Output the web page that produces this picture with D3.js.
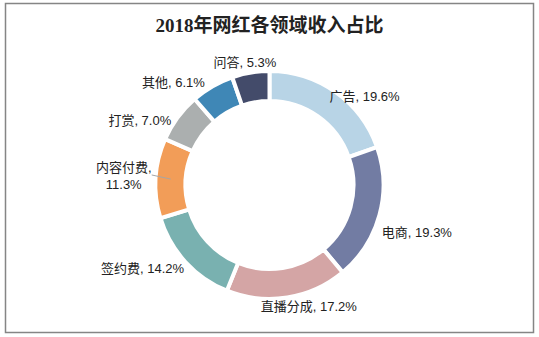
<!DOCTYPE html>
<html>
<head>
<meta charset="utf-8">
<script src="https://cdn.jsdelivr.net/npm/d3@7"></script>
<style>
  body { margin: 0; background: #fff; }
  svg { display: block; }
</style>
</head>
<body>
<div id="chart"></div>
<script>
const categories = ["广告", "电商", "直播分成", "签约费", "内容付费", "打赏", "其他", "问答"];
const shares = [19.6, 19.3, 17.2, 14.2, 11.3, 7.0, 6.1, 5.3];
const colors = ["#b8d4e6", "#727ca3", "#d4a5a5", "#79b1b0", "#f29d58", "#abafaf", "#3f87b6", "#434b6a"];
const title = "2018年网红各领域收入占比";

// nudges for the outside labels (excel "best fit" placement)
const labelNudge = [[20, 18], [22, 13], [19, -7], [-31, -4], [-16, -1], [-25, 13], [-31, 10], [-3, 6]];

const w = 539, h = 337;
const cx = 269.5, cy = 185;

const svg = d3.select("#chart")
  .append("svg")
  .attr("width", w)
  .attr("height", h);

svg.append("rect")
  .attr("x", 5.5).attr("y", 3.5)
  .attr("width", 528).attr("height", 329)
  .attr("fill", "#fff")
  .attr("stroke", "#858585")
  .attr("stroke-width", 1.5);

svg.append("text")
  .attr("x", cx)
  .attr("y", 32)
  .attr("text-anchor", "middle")
  .attr("font-family", "'Liberation Serif', 'Noto Sans CJK SC', serif")
  .attr("font-weight", "bold")
  .attr("font-size", 19)
  .attr("fill", "#222")
  .text(title);

const data = categories.map((c, i) => ({ name: c, value: shares[i], color: colors[i], nudge: labelNudge[i] }));

const pie = d3.pie().value(d => d.value).sort(null);
const arcs = pie(data);

const arc = d3.arc().innerRadius(84).outerRadius(114);
const labelArc = d3.arc().innerRadius(130).outerRadius(130);
const midArc = d3.arc().innerRadius(99).outerRadius(99);
const edgeArc = d3.arc().innerRadius(118).outerRadius(118);

const g = svg.append("g").attr("transform", "translate(" + cx + "," + cy + ")");

g.selectAll("path")
  .data(arcs)
  .enter()
  .append("path")
  .attr("d", arc)
  .attr("fill", d => d.data.color)
  .attr("stroke", "#fff")
  .attr("stroke-width", 4);

const fmt = d3.format(".1f");

arcs.forEach(d => {
  const p = labelArc.centroid(d);
  const x = p[0] + d.data.nudge[0];
  const y = p[1] + d.data.nudge[1];
  const t = g.append("text")
    .attr("text-anchor", "middle")
    .attr("font-family", "'Liberation Sans', 'Noto Sans CJK SC', sans-serif")
    .attr("font-size", 13)
    .attr("fill", "#222");
  if (d.data.name === "内容付费") {
    t.append("tspan").attr("x", x).attr("y", y - 4).text(d.data.name + ",");
    t.append("tspan").attr("x", x).attr("y", y + 13).text(fmt(d.data.value) + "%");
    const a = midArc.centroid(d);
    const b = edgeArc.centroid(d);
    g.insert("line", "text")
      .attr("x1", b[0]).attr("y1", b[1] - 3)
      .attr("x2", a[0]).attr("y2", a[1])
      .attr("stroke", "#a6a6a6")
      .attr("stroke-width", 1);
  } else {
    t.attr("x", x).attr("y", y + 4.5).text(d.data.name + ", " + fmt(d.data.value) + "%");
  }
});
</script>
</body>
</html>
